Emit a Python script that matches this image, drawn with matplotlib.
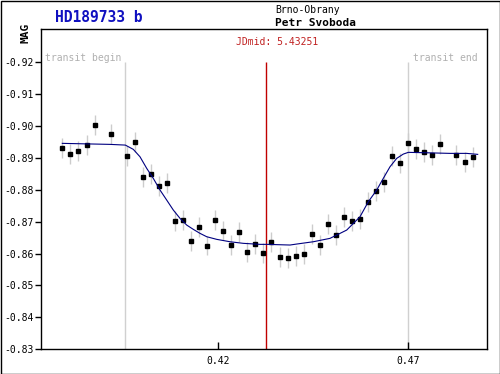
import matplotlib
matplotlib.use("Agg")
import matplotlib.pyplot as plt
from matplotlib.patches import Rectangle

# observed points (phase, magnitude)
obs_x = [0.37887, 0.38097, 0.38308, 0.38537, 0.38747, 0.39168, 0.39597, 0.39808,
         0.40018, 0.40229, 0.40439, 0.40650, 0.40853, 0.41063, 0.41274, 0.41484,
         0.41695, 0.41905, 0.42116, 0.42326, 0.42537, 0.42747, 0.42958, 0.43168,
         0.43379, 0.43616, 0.43826, 0.44037, 0.44247, 0.44458, 0.44668, 0.44887,
         0.45089, 0.45300, 0.45511, 0.45721, 0.45932, 0.46142, 0.46353, 0.46571,
         0.46782, 0.46992, 0.47203, 0.47413, 0.47624, 0.47834, 0.48255, 0.48484,
         0.48695]
obs_y = [-0.8932, -0.8913, -0.8922, -0.8940, -0.9004, -0.8975, -0.8907, -0.8950,
         -0.8841, -0.8850, -0.8812, -0.8822, -0.8702, -0.8706, -0.8640, -0.8684,
         -0.8625, -0.8706, -0.8672, -0.8628, -0.8668, -0.8606, -0.8631, -0.8603,
         -0.8637, -0.8590, -0.8587, -0.8593, -0.8599, -0.8662, -0.8628, -0.8693,
         -0.8659, -0.8715, -0.8703, -0.8709, -0.8762, -0.8797, -0.8825, -0.8907,
         -0.8885, -0.8947, -0.8928, -0.8919, -0.8908, -0.8944, -0.8910, -0.8888,
         -0.8902]
obs_err = 0.0031

# fitted model
fit_x = [0.37895, 0.39150, 0.39553, 0.39763, 0.39939, 0.40116, 0.40289, 0.40466,
         0.40642, 0.40816, 0.40992, 0.41168, 0.41342, 0.41518, 0.41695, 0.41958,
         0.42308, 0.42658, 0.43097, 0.43274, 0.43887, 0.44063, 0.44500, 0.44939,
         0.45379, 0.45729, 0.45947, 0.46168, 0.46342, 0.46518, 0.46695, 0.46868,
         0.47000, 0.47484, 0.48097, 0.48537, 0.48826]
fit_y = [-0.89454, -0.89422, -0.89400, -0.89266, -0.89034, -0.88670, -0.88357, -0.87991,
         -0.87677, -0.87364, -0.87104, -0.86894, -0.86759, -0.86634, -0.86528, -0.86446,
         -0.86371, -0.86321, -0.86289, -0.86289, -0.86268, -0.86299, -0.86371, -0.86477,
         -0.86737, -0.87154, -0.87624, -0.87991, -0.88357, -0.88720, -0.88984, -0.89118,
         -0.89172, -0.89159, -0.89140, -0.89140, -0.89109]

t_begin = 0.3954
t_end = 0.47
t_mid = 0.43263

yticks = [-0.92, -0.91, -0.90, -0.89, -0.88, -0.87, -0.86, -0.85, -0.84, -0.83]
xticks = [0.42, 0.47]

mono = "DejaVu Sans Mono"

fig = plt.figure(figsize=(5, 3.74), dpi=100)
ax = fig.add_axes([0.082, 0.066, 0.8914, 0.8558])

ax.vlines([t_begin, t_end], -0.83, -0.92, color="#d0d0d0", lw=1, zorder=1)
ax.vlines([t_mid], -0.83, -0.92, color="#c00000", lw=1, zorder=1)
ax.errorbar(obs_x, obs_y, yerr=obs_err, fmt="none", ecolor="#cccccc", elinewidth=1, zorder=2)
ax.plot(obs_x, obs_y, "s", color="black", ms=3.2, zorder=3)
ax.plot(fit_x, fit_y, color="#000080", lw=0.8, zorder=4)

ax.set_xlim(0.37334, 0.49063)
ax.set_ylim(-0.83, -0.9303)
ax.set_yticks(yticks)
ax.set_yticklabels(["%.2f" % v for v in yticks], family=mono, fontsize=7)
ax.set_xticks(xticks)
ax.set_xticklabels(["%.2f" % v for v in xticks], family=mono, fontsize=7)
ax.tick_params(axis="y", direction="out", length=4, width=1, pad=1)
ax.tick_params(axis="x", direction="in", length=5, width=1, pad=5)
for s in ax.spines.values():
    s.set_linewidth(1)

ax.text(t_begin - 0.0008, -0.9214, "transit begin", family=mono, fontsize=7,
        color="#b0b0b0", ha="right", va="center")
ax.text(t_end + 0.0012, -0.9214, "transit end", family=mono, fontsize=7,
        color="#b0b0b0", ha="left", va="center")

fig.text(277 / 500, 1 - 41.7 / 374, "JDmid: 5.43251", family=mono, fontsize=7,
         color="#c02020", ha="center", va="center")
fig.text(55 / 500, 1 - 17 / 374, "HD189733 b", family=mono, fontsize=10.5,
         fontweight="bold", color="#1010c0", ha="left", va="center")
fig.text(275 / 500, 1 - 10.3 / 374, "Brno-Obrany", family=mono, fontsize=7,
         color="black", ha="left", va="center")
fig.text(275 / 500, 1 - 22.7 / 374, "Petr Svoboda", family=mono, fontsize=8,
         fontweight="bold", color="black", ha="left", va="center")
fig.text(25.7 / 500, 1 - 33 / 374, "MAG", family=mono, fontsize=8,
         fontweight="bold", rotation=90, ha="center", va="center")

fig.patches.append(Rectangle((0.001, 0.001), 0.998, 0.997, transform=fig.transFigure,
                             fill=False, edgecolor="black", lw=1))

fig.savefig("out.png", dpi=100)
